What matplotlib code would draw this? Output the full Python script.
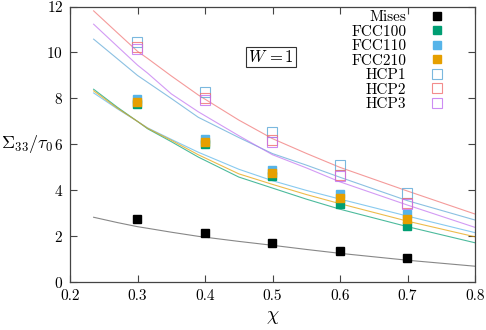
import numpy as np
import matplotlib
matplotlib.use("Agg")
import matplotlib.pyplot as plt

plt.rcParams['font.family'] = 'cmr10'
plt.rcParams['mathtext.fontset'] = 'cm'
plt.rcParams['axes.formatter.use_mathtext'] = True
plt.rcParams['axes.unicode_minus'] = False

# simulation points
chi_pts = [0.3, 0.4, 0.5, 0.6, 0.7]
mises = [2.74, 2.16, 1.71, 1.35, 1.04]
fcc100 = [7.74, 6.03, 4.61, 3.40, 2.45]
fcc110 = [7.98, 6.22, 4.87, 3.83, 2.97]
fcc210 = [7.84, 6.11, 4.74, 3.65, 2.75]
hcp1 = [10.45, 8.29, 6.52, 5.09, 3.90]
hcp2 = [10.25, 8.00, 6.19, 4.65, 3.45]
hcp3 = [10.15, 7.95, 6.12, 4.62, 3.40]

# model curves
chi_line = [0.235, 0.27, 0.3, 0.315, 0.35, 0.39, 0.45, 0.5, 0.55, 0.6, 0.7, 0.8]
mises_l = [2.83, 2.60, 2.42, 2.35, 2.18, 2.00, 1.78, 1.61, 1.43, 1.26, 0.96, 0.70]
fcc100_l = [8.40, 7.62, 7.00, 6.68, 6.12, 5.45, 4.58, 4.10, 3.62, 3.18, 2.42, 1.72]
fcc110_l = [8.24, 7.55, 7.00, 6.72, 6.22, 5.66, 4.92, 4.42, 4.00, 3.62, 2.88, 2.16]
fcc210_l = [8.33, 7.58, 7.00, 6.70, 6.18, 5.55, 4.72, 4.26, 3.82, 3.42, 2.66, 1.98]
hcp1_l = [10.58, 9.73, 9.00, 8.70, 8.00, 7.18, 6.30, 5.60, 5.10, 4.57, 3.55, 2.71]
hcp2_l = [11.81, 10.86, 10.05, 9.74, 8.98, 8.15, 7.06, 6.25, 5.61, 5.00, 3.97, 2.97]
hcp3_l = [11.23, 10.27, 9.45, 9.10, 8.20, 7.42, 6.38, 5.55, 4.98, 4.37, 3.36, 2.39]

labels = ['Mises', 'FCC100', 'FCC110', 'FCC210', 'HCP1', 'HCP2', 'HCP3']
colors = ['black', '#009E73', '#56B4E9', '#E69F00', '#5aa6d6', '#f07070', '#c070f0']
points = [mises, fcc100, fcc110, fcc210, hcp1, hcp2, hcp3]
lines = [mises_l, fcc100_l, fcc110_l, fcc210_l, hcp1_l, hcp2_l, hcp3_l]
hollow = [False, False, False, False, True, True, True]

fig = plt.figure(figsize=(4.86, 3.30), dpi=100)
ax = fig.add_axes([70/486, 1 - 282.3/330, 405/486, 275.8/330])

for lab, c, yl in zip(labels, colors, lines):
    lc = '#555555' if lab == 'Mises' else c
    ax.plot(chi_line, yl, color=lc, lw=0.8, alpha=0.7)

for lab, c, yp, h in zip(labels, colors, points, hollow):
    if h:
        ax.plot(chi_pts, yp, ls='none', marker='s', ms=6.5, mfc='none',
                mec=c, mew=0.8, alpha=0.8, label=lab)
    else:
        ax.plot(chi_pts, yp, ls='none', marker='s', ms=5.5, color=c,
                mec=c, label=lab)

ax.set_xlim(0.2, 0.8)
ax.set_ylim(0, 12)
ax.set_xticks(np.arange(0.2, 0.81, 0.1))
ax.set_xticklabels(['0.2', '0.3', '0.4', '0.5', '0.6', '0.7', '0.8'])
ax.set_yticks(range(0, 13, 2))
ax.tick_params(direction='in', top=True, right=True, length=5, width=0.8,
               labelsize=11, color='#444444', pad=5)
for s in ax.spines.values():
    s.set_color('#444444')
    s.set_linewidth(0.9)

ax.set_xlabel(r'$\chi$', fontsize=14, labelpad=4)
ax.set_ylabel(r'$\Sigma_{33}/\tau_0$', fontsize=13, rotation=0, ha='right', va='center')
ax.yaxis.set_label_coords(-0.04, 0.5)

ax.text(0.496, 0.817, r'$W\,=1$', transform=ax.transAxes, fontsize=12,
        ha='center', va='center',
        bbox=dict(boxstyle='square,pad=0.1', fc='white', ec='#333333', lw=0.8))

leg = ax.legend(loc='upper right', bbox_to_anchor=(1 - 32/405, 1 - 4/275.8),
                frameon=False, markerfirst=False, fontsize=11,
                handlelength=0.8, handletextpad=1.6, labelspacing=0.05,
                borderpad=0, borderaxespad=0)

fig.savefig('out.png', dpi=100)
